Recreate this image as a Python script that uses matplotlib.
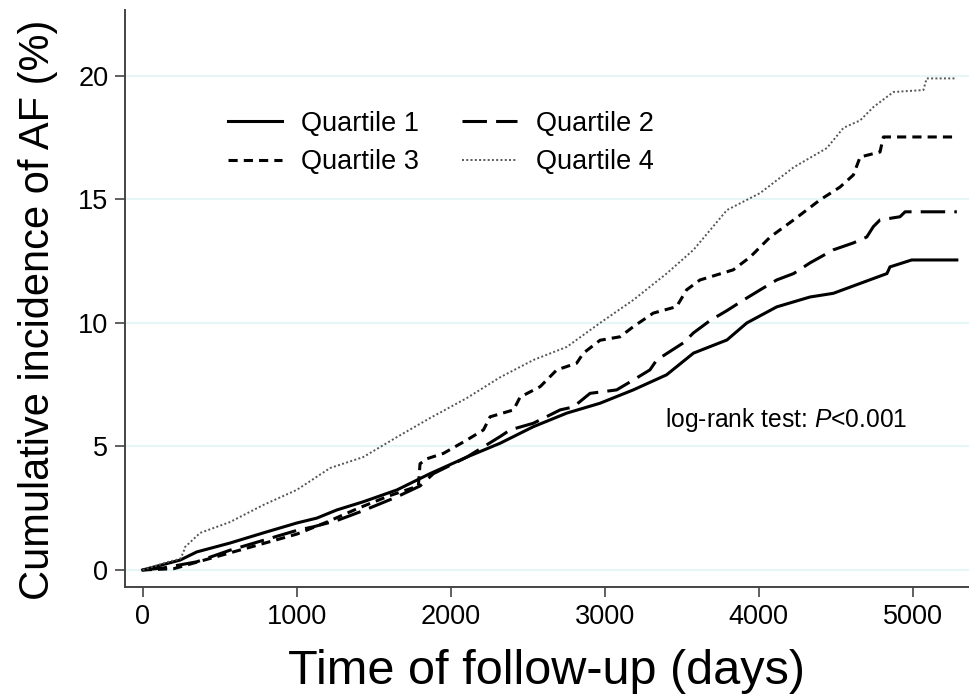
import matplotlib
matplotlib.use("Agg")
import matplotlib.pyplot as plt

# ---- data ----
q1_days = [0, 243, 351, 567, 783, 1000, 1131, 1261, 1432, 1651, 1866, 2105, 2321, 2537, 2754,
           2970, 3186, 3402, 3577, 3794, 3923, 4117, 4333, 4485, 4659, 4833, 4853, 4994, 5287]
q1_vals = [0, 0.4, 0.73, 1.09, 1.5, 1.9, 2.1, 2.43, 2.76, 3.24, 3.9, 4.57, 5.13, 5.8, 6.35,
           6.75, 7.29, 7.9, 8.78, 9.31, 10.0, 10.65, 11.05, 11.2, 11.6, 12.0, 12.27, 12.55, 12.55]

q2_days = [0, 133, 351, 567, 783, 1000, 1110, 1261, 1432, 1651, 1801, 1888, 2105, 2321, 2386,
           2537, 2711, 2797, 2905, 3078, 3186, 3294, 3338, 3510, 3577, 3685, 3794, 3902, 4010,
           4117, 4227, 4333, 4485, 4615, 4702, 4745, 4788, 4918, 4951, 5287]
q2_vals = [0, 0.08, 0.33, 0.8, 1.2, 1.6, 1.75, 2.0, 2.4, 2.96, 3.4, 3.9, 4.57, 5.4, 5.67,
           5.94, 6.48, 6.6, 7.15, 7.29, 7.69, 8.1, 8.5, 9.19, 9.6, 10.1, 10.5, 10.93, 11.34,
           11.74, 12.0, 12.43, 12.96, 13.24, 13.48, 13.9, 14.17, 14.3, 14.5, 14.5]

q3_days = [0, 200, 400, 600, 800, 1000, 1200, 1400, 1600, 1790, 1801, 1845, 1953, 2105, 2213,
           2256, 2408, 2451, 2581, 2689, 2818, 2862, 2970, 3100, 3186, 3316, 3467, 3532, 3619,
           3835, 3945, 4075, 4227, 4398, 4528, 4615, 4659, 4788, 4810, 5287]
q3_vals = [0, 0.05, 0.4, 0.75, 1.1, 1.45, 1.95, 2.5, 3.0, 3.4, 4.3, 4.5, 4.72, 5.26, 5.67,
           6.2, 6.48, 7.0, 7.42, 8.1, 8.37, 8.78, 9.3, 9.44, 9.85, 10.4, 10.66, 11.34, 11.74,
           12.15, 12.67, 13.48, 14.17, 14.98, 15.5, 15.99, 16.72, 16.92, 17.53, 17.53]

q4_days = [0, 150, 243, 263, 275, 373, 567, 783, 1000, 1218, 1432, 1651, 1866, 2105, 2321,
           2537, 2754, 2970, 3186, 3402, 3577, 3794, 4010, 4227, 4443, 4551, 4659, 4745, 4875,
           5070, 5091, 5287]
q4_vals = [0, 0.3, 0.45, 0.69, 0.93, 1.5, 1.94, 2.63, 3.24, 4.13, 4.57, 5.38, 6.15, 6.96, 7.8,
           8.5, 9.03, 10.0, 10.93, 12.0, 12.96, 14.57, 15.26, 16.3, 17.08, 17.9, 18.2, 18.74, 19.35,
           19.43, 19.9, 19.9]

labels = ["Quartile 1", "Quartile 2", "Quartile 3", "Quartile 4"]
x_ticks = [0, 1000, 2000, 3000, 4000, 5000]
y_ticks = [0, 5, 10, 15, 20]

plt.rcParams['font.family'] = ['Liberation Sans', 'DejaVu Sans']
plt.rcParams['mathtext.fontset'] = 'custom'
plt.rcParams['mathtext.it'] = 'Liberation Sans:italic'
plt.rcParams['mathtext.rm'] = 'Liberation Sans'

fig = plt.figure(figsize=(9.69, 6.98), dpi=100)
ax = fig.add_axes([125/969, (698-587)/698, (969-125)/969, (587-10)/698])

ax.set_xlim(-115, 5366)
ax.set_ylim(-0.69, 22.67)

for y in y_ticks:
    ax.axhline(y, color='#e6f6f6', lw=1.5, zorder=0)

l1, = ax.plot(q1_days, q1_vals, color='black', lw=2.2, solid_joinstyle='miter')
l2, = ax.plot(q2_days, q2_vals, color='black', lw=2.2, dashes=(8, 3))
l3, = ax.plot(q3_days, q3_vals, color='black', lw=2.2, dashes=(3, 2))
l4, = ax.plot(q4_days, q4_vals, color='#555555', lw=1.4, dashes=(1, 1.2))

# matplotlib fills legend columns first: row1 = Q1,Q2 ; row2 = Q3,Q4
ax.legend([l1, l3, l2, l4], [labels[0], labels[2], labels[1], labels[3]],
          ncol=2, frameon=False, fontsize=19.5, loc='upper left',
          bbox_to_anchor=(0.122, 0.825), borderaxespad=0, borderpad=0,
          handlelength=2.0, handletextpad=0.7, columnspacing=1.6, labelspacing=0.45)

ax.text(4177, 6.07, "log-rank test: $P$<0.001", fontsize=17.7, ha='center', va='center')

ax.set_xticks(x_ticks)
ax.set_yticks(y_ticks)
ax.tick_params(axis='both', labelsize=19.5, length=7, width=1.2, color='#444444',
               direction='out', pad=5)
for s in ['top', 'right']:
    ax.spines[s].set_visible(False)
for s in ['left', 'bottom']:
    ax.spines[s].set_color('#444444')
    ax.spines[s].set_linewidth(1.4)

ax.set_xlabel("Time of follow-up (days)", fontsize=35, labelpad=14)
ax.set_ylabel("Cumulative incidence of AF (%)", fontsize=30, labelpad=12)
ax.yaxis.set_label_coords(-0.079, 0.48)

fig.savefig("out.png", dpi=100)
